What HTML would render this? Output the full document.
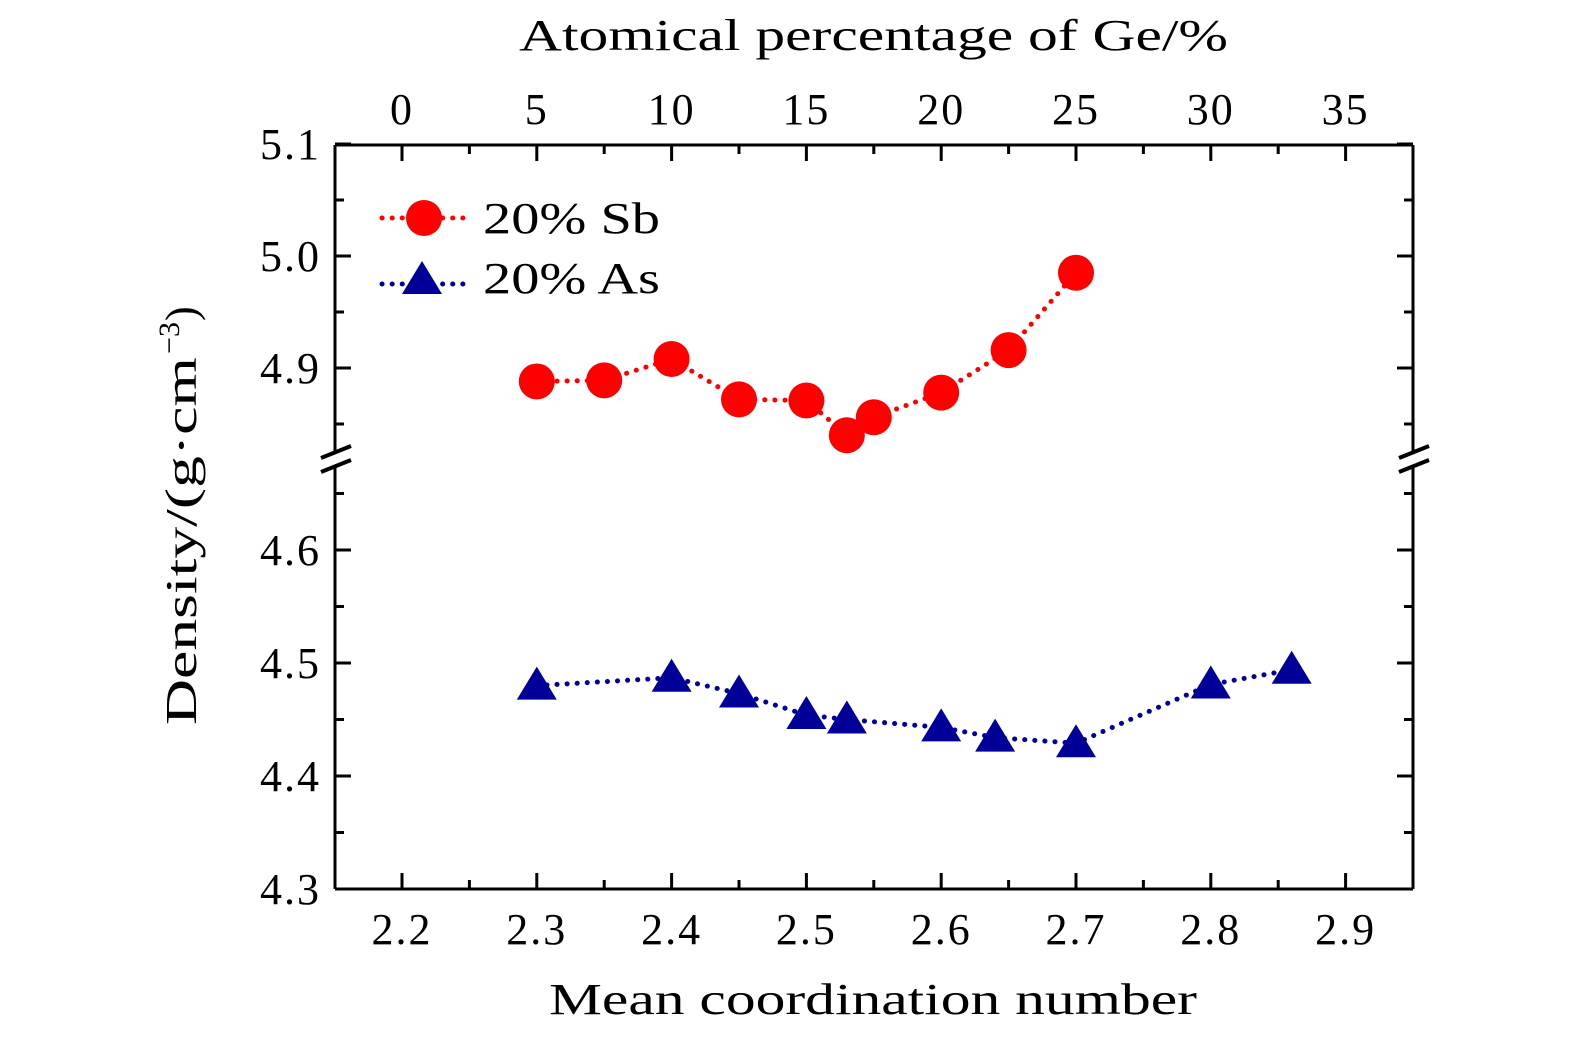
<!DOCTYPE html>
<html><head><meta charset="utf-8">
<style>
html,body{margin:0;padding:0;background:#fff;overflow:hidden;width:1575px;height:1043px;}
svg{display:block;}
svg text{font-family:"Liberation Serif",serif;fill:#000;}
</style></head>
<body>
<svg id="chart" width="1575" height="1043" viewBox="0 0 1575 1043" xmlns="http://www.w3.org/2000/svg">
<g id="axes"></g>
<g id="series"></g>
<g id="legend"></g>
</svg>
<script>
const xTicks = [2.2, 2.3, 2.4, 2.5, 2.6, 2.7, 2.8, 2.9];
const xTickLabels = ["2.2","2.3","2.4","2.5","2.6","2.7","2.8","2.9"];
const topTicks = [0, 5, 10, 15, 20, 25, 30, 35];
const topTickLabels = ["0","5","10","15","20","25","30","35"];
const yUpperTicks = [4.9, 5.0, 5.1];
const yUpperLabels = ["4.9","5.0","5.1"];
const yLowerTicks = [4.3, 4.4, 4.5, 4.6];
const yLowerLabels = ["4.3","4.4","4.5","4.6"];
const sbX = [2.3, 2.35, 2.4, 2.45, 2.5, 2.53, 2.55, 2.6, 2.65, 2.7];
const sbY = [4.888, 4.889, 4.908, 4.872, 4.871, 4.840, 4.856, 4.878, 4.916, 4.985];
const asX = [2.3, 2.4, 2.45, 2.5, 2.53, 2.6, 2.64, 2.7, 2.8, 2.86];
const asY = [4.480, 4.487, 4.473, 4.454, 4.450, 4.443, 4.434, 4.429, 4.481, 4.494];

const NS = "http://www.w3.org/2000/svg";
const L = 335, R = 1413, T = 145, B = 889, BRK = 460;
function xs(v){ return 402 + (v - 2.2) * 1348; }
function xTop(p){ return 402 + p * 26.96; }
function ys(v){ return v >= 4.75 ? 256 - (v - 5.0) * 1120 : 663 - (v - 4.5) * 1130; }
function mk(tag, attrs, parent){
  const e = document.createElementNS(NS, tag);
  for (const k in attrs) e.setAttribute(k, attrs[k]);
  parent.appendChild(e); return e;
}
const axes = document.getElementById('axes');
const ser = document.getElementById('series');
const leg = document.getElementById('legend');
const st = {stroke:'#000','stroke-width':3,fill:'none'};
const tickFont = {'font-size':44,'letter-spacing':'2'};
const SG = 'spacingAndGlyphs';

let e;
e = mk('line',{x1:L,y1:T,x2:R,y2:T,...st},axes);
 
e = mk('line',{x1:L,y1:B,x2:R,y2:B,...st},axes);
 
e = mk('path',{d:`M${L},${T}V${BRK-8}M${L},${BRK+8}V${B}`,...st},axes);
 
e = mk('path',{d:`M${R},${T}V${BRK-8}M${R},${BRK+8}V${B}`,...st},axes);
 
[L,R].forEach(x=>{
  e = mk('path',{d:`M${x-14},${BRK-2}L${x+16},${BRK-14}M${x-14},${BRK+12}L${x+16},${BRK}`,stroke:'#000','stroke-width':4,fill:'none'},axes);
   
});

xTicks.forEach((v,i)=>{
  const x = xs(v);
  mk('line',{x1:x,y1:B,x2:x,y2:B-16,...st},axes);
  e = mk('text',{x:x,y:B+55,'text-anchor':'middle',...tickFont},axes);
  e.textContent = xTickLabels[i];
   
  if (i < xTicks.length-1){ const xm = xs(v+0.05); mk('line',{x1:xm,y1:B,x2:xm,y2:B-9,...st},axes); }
});
topTicks.forEach((p,i)=>{
  const x = xTop(p);
  mk('line',{x1:x,y1:T,x2:x,y2:T+16,...st},axes);
  e = mk('text',{x:x,y:T-21,'text-anchor':'middle',...tickFont},axes);
  e.textContent = topTickLabels[i];
   
  if (i < topTicks.length-1){ const xm = xTop(p+2.5); mk('line',{x1:xm,y1:T,x2:xm,y2:T+9,...st},axes); }
});
function yTick(v,label){
  const y = ys(v);
  mk('line',{x1:L,y1:y,x2:L+16,y2:y,...st},axes);
  mk('line',{x1:R,y1:y,x2:R-16,y2:y,...st},axes);
  e = mk('text',{x:L-14,y:y+15,'text-anchor':'end',...tickFont},axes);
  e.textContent = label;
   
}
function yMinor(v){ const y = ys(v); mk('line',{x1:L,y1:y,x2:L+9,y2:y,...st},axes); mk('line',{x1:R,y1:y,x2:R-9,y2:y,...st},axes); }
yUpperTicks.forEach((v,i)=>yTick(v,yUpperLabels[i]));
yLowerTicks.forEach((v,i)=>yTick(v,yLowerLabels[i]));
[4.85,4.95,5.05,4.35,4.45,4.55,4.65].forEach(yMinor);

e = mk('text',{x:549,y:1014,'font-size':44,textLength:648,lengthAdjust:SG},axes);
e.textContent = 'Mean coordination number';
 
e = mk('text',{x:519,y:50,'font-size':44,textLength:709,lengthAdjust:SG},axes);
e.textContent = 'Atomical percentage of Ge/%';
 
const yt = mk('g',{transform:'translate(196,725) rotate(-90)'},axes);
e = mk('text',{x:0,y:0,'font-size':44,textLength:368,lengthAdjust:SG},yt);
e.textContent = 'Density/(g·cm';
 
e = mk('text',{x:371,y:-17,'font-size':30,textLength:32,lengthAdjust:SG},yt);
e.textContent = '−3';
 
e = mk('text',{x:404,y:0,'font-size':44},yt);
e.textContent = ')';
 

function linePath(X,Y){ return X.map((x,i)=>(i?'L':'M')+xs(x)+','+ys(Y[i])).join(''); }
const dot = {'stroke-width':5,fill:'none','stroke-dasharray':'0.1 10','stroke-linecap':'round'};
e = mk('path',{d:linePath(sbX,sbY),stroke:'#ff0000',...dot},ser);
 
e = mk('path',{d:linePath(asX,asY),stroke:'#000099',...dot},ser);
 
sbX.forEach((x,i)=>{
  e = mk('circle',{cx:xs(x),cy:ys(sbY[i]),r:18,fill:'#ff0000'},ser);
   
});
function tri(cx,cy,s){ return `${cx},${cy-19} ${cx-s},${cy+14} ${cx+s},${cy+14}`; }
asX.forEach((x,i)=>{
  e = mk('polygon',{points:tri(xs(x),ys(asY[i]),20),fill:'#000099'},ser);
   
});

mk('line',{x1:382,y1:218,x2:466,y2:218,stroke:'#ff0000',...dot},leg);
e = mk('circle',{cx:424,cy:218,r:18,fill:'#ff0000'},leg);
 
e = mk('text',{x:483,y:233,'font-size':44,textLength:177,lengthAdjust:SG},leg); e.textContent='20% Sb';
 
mk('line',{x1:382,y1:284,x2:466,y2:284,stroke:'#000099',...dot},leg);
e = mk('polygon',{points:tri(422,280,20),fill:'#000099'},leg);
 
e = mk('text',{x:483,y:293,'font-size':44,textLength:177,lengthAdjust:SG},leg); e.textContent='20% As';
 
</script>
</body></html>
